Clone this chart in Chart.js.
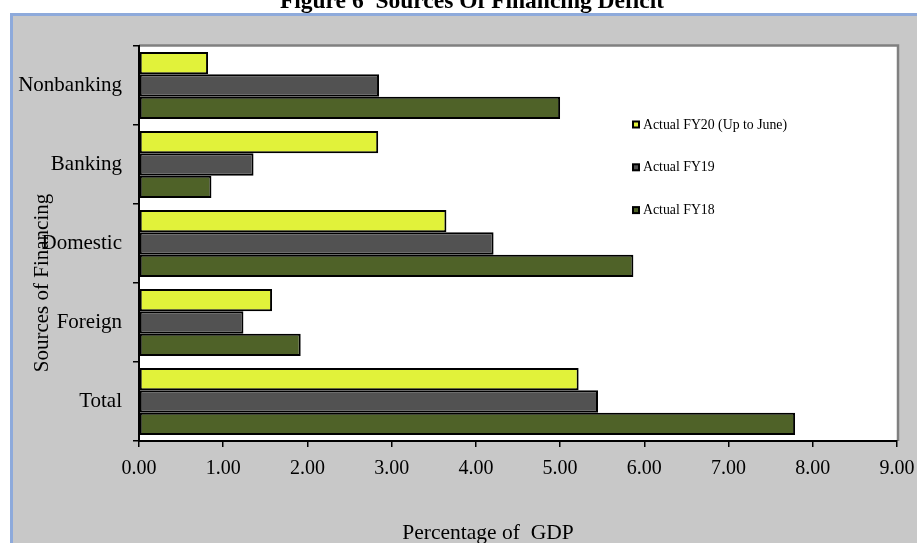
<!DOCTYPE html>
<html>
<head>
<meta charset="utf-8">
<script src="https://cdn.jsdelivr.net/npm/chart.js@4"></script>
<style>
  html, body { margin: 0; padding: 0; background: #fff; overflow: hidden; }
  canvas { display: block; }
</style>
</head>
<body>
<canvas id="c" width="917" height="543"></canvas>
<script>
// Sources of financing the deficit, % of GDP
const categories = ['Nonbanking', 'Banking', 'Domestic', 'Foreign', 'Total'];
const seriesNames = ['Actual FY20 (Up to June)', 'Actual FY19', 'Actual FY18'];
const fy20 = [0.82, 2.84, 3.65, 1.58, 5.22];
const fy19 = [2.85, 1.36, 4.21, 1.24, 5.45];
const fy18 = [5.00, 0.86, 5.87, 1.92, 7.79];
const xTickValues = [0, 1, 2, 3, 4, 5, 6, 7, 8, 9];

const chartTitle = 'Figure 6  Sources Of Financing Deficit';
const xAxisTitle = 'Percentage of  GDP';
const yAxisTitle = 'Sources of Financing';

const SERIF = '"Liberation Serif", "Times New Roman", Times, serif';
const seriesColors = ['#e1f23a', '#525252', '#4f6228'];

// Page frame, plot background, heading and axis titles
const framePlugin = {
  id: 'frame',
  beforeDraw(chart) {
    const { ctx, chartArea: a, width, height } = chart;
    ctx.save();
    ctx.fillStyle = '#ffffff';
    ctx.fillRect(0, 0, width, height);
    ctx.fillStyle = '#c8c8c8';
    ctx.fillRect(10, 13, width - 10, height - 13);
    ctx.fillStyle = '#8eaadb';
    ctx.fillRect(10, 13, width - 10, 3);
    ctx.fillRect(10, 13, 3, height - 13);

    ctx.fillStyle = '#ffffff';
    ctx.fillRect(a.left, a.top, a.right - a.left, a.bottom - a.top);
    ctx.strokeStyle = '#808080';
    ctx.lineWidth = 2.5;
    ctx.beginPath();
    ctx.moveTo(a.left, a.top - 0.5);
    ctx.lineTo(a.right + 1, a.top - 0.5);
    ctx.lineTo(a.right + 1, a.bottom);
    ctx.stroke();

    ctx.fillStyle = '#000';
    ctx.textAlign = 'center';
    ctx.textBaseline = 'alphabetic';
    ctx.font = 'bold 23.5px ' + SERIF;
    ctx.fillText(chartTitle, 472, 7.5);

    ctx.font = '21.5px ' + SERIF;
    ctx.fillText(xAxisTitle, 488, 539);

    ctx.font = '21px ' + SERIF;
    ctx.translate(48, 283);
    ctx.rotate(-Math.PI / 2);
    ctx.fillText(yAxisTitle, 0, 0);
    ctx.restore();
  }
};

// Legend drawn inside the plot, one row per series
const legendPlugin = {
  id: 'insideLegend',
  afterDraw(chart) {
    const { ctx } = chart;
    const x = 632, y0 = 124.5, step = 42.8, box = 8;
    ctx.save();
    ctx.font = '13.8px ' + SERIF;
    ctx.textAlign = 'left';
    ctx.textBaseline = 'middle';
    chart.data.datasets.forEach((ds, i) => {
      const y = y0 + i * step;
      ctx.fillStyle = '#000';
      ctx.fillRect(x, y - box / 2, box, box);
      ctx.fillStyle = ds.backgroundColor;
      ctx.fillRect(x + 2, y - box / 2 + 2, box - 4, box - 4);
      ctx.fillStyle = '#000';
      ctx.fillText(ds.label, x + box + 3, y + 0.5);
    });
    ctx.restore();
  }
};

const seriesValues = [fy20, fy19, fy18];

new Chart(document.getElementById('c'), {
  type: 'bar',
  data: {
    labels: categories,
    datasets: seriesNames.map((name, i) => ({
      label: name,
      data: seriesValues[i],
      backgroundColor: seriesColors[i],
      borderColor: '#000',
      borderWidth: 2,
      borderSkipped: false,
      barPercentage: 1,
      categoryPercentage: 0.85
    }))
  },
  options: {
    indexAxis: 'y',
    responsive: false,
    devicePixelRatio: 1,
    animation: false,
    events: [],
    layout: { padding: { top: 46, right: 20, bottom: 0, left: 0 } },
    plugins: {
      legend: { display: false },
      tooltip: { enabled: false },
      title: { display: false }
    },
    scales: {
      x: {
        min: 0,
        max: 9,
        afterBuildTicks(scale) {
          scale.ticks = xTickValues.map(v => ({ value: v }));
        },
        ticks: {
          callback: v => Number(v).toFixed(2),
          color: '#000',
          font: { family: SERIF, size: 20 },
          padding: 10,
          maxRotation: 0,
          autoSkip: false
        },
        grid: { drawOnChartArea: false, drawTicks: true, tickLength: 6, color: '#000', lineWidth: 1.5 },
        border: { display: true, color: '#000', width: 2 },
        afterFit(scale) {
          scale.height = 102;
          scale.paddingLeft = 0;
          scale.paddingRight = 0;
        }
      },
      y: {
        ticks: {
          color: '#000',
          font: { family: SERIF, size: 21 },
          padding: 11
        },
        grid: { drawOnChartArea: false, drawTicks: true, tickLength: 6, color: '#000', lineWidth: 1.5, offset: true },
        border: { display: true, color: '#000', width: 2 },
        afterFit(scale) {
          scale.width = 139;
          scale.paddingTop = 0;
          scale.paddingBottom = 0;
        }
      }
    }
  },
  plugins: [framePlugin, legendPlugin]
});
</script>
</body>
</html>
